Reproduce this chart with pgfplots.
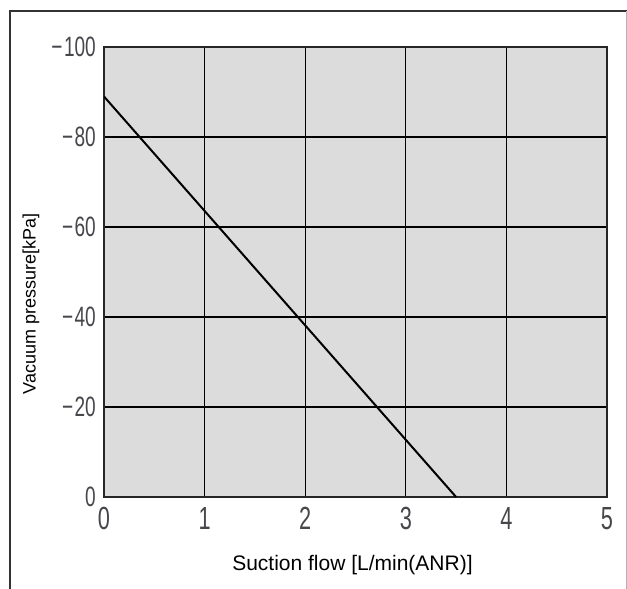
\documentclass[border=0pt]{standalone}
\usepackage{pgfplots}
\pgfplotsset{compat=1.18}
\usepackage{fontspec}
\setmainfont{Liberation Sans}
\newfontfamily\tickfont[FakeStretch=0.68]{Liberation Sans}
\definecolor{bg}{RGB}{220,220,220}
\definecolor{ticktxt}{RGB}{70,70,75}
\begin{document}
\begin{tikzpicture}
\begin{axis}[
  scale only axis,
  width=503bp, height=450bp,
  xmin=0, xmax=5, ymin=-100, ymax=0,
  y dir=reverse,
  axis background/.style={fill=bg},
  xtick={0,1,2,3,4,5},
  ytick={-100,-80,-60,-40,-20,0},
  xticklabels={0,1,2,3,4,5},
  yticklabels={−\kern1.5bp100,−\kern1.5bp80,−\kern1.5bp60,−\kern1.5bp40,−\kern1.5bp20,0},
  major tick length=0pt,
  grid=major,
  major grid style={black, line width=1.2bp},
  axis line style={black!85, line width=2.4bp},
  xticklabel style={font=\tickfont\fontsize{32bp}{34bp}\selectfont, text=ticktxt, anchor=north, inner sep=0pt, yshift=-10bp},
  yticklabel style={font=\tickfont\fontsize{28bp}{30bp}\selectfont, text=ticktxt, anchor=east, inner sep=0pt, xshift=-8bp},
  xlabel={Suction flow [L/min(ANR)]},
  ylabel={Vacuum pressure[kPa]},
  xlabel style={font=\fontsize{21bp}{23bp}\selectfont, at={(axis description cs:0.494,0)}, anchor=center, inner sep=0pt, yshift=-68bp},
  ylabel style={font=\fontsize{18bp}{20bp}\selectfont, at={(axis description cs:0,0.429)}, anchor=center, inner sep=0pt, yshift=73bp},
]
\addplot[black, line width=2bp] coordinates {(0,-89) (3.5,0)};
\end{axis}
\draw[black!80, line width=1.8bp] (-94bp,-95bp) -- (-94bp,486bp) -- (524bp,486bp);
\draw[black!30, line width=0.8bp] (522bp,486bp) -- (522bp,-95bp);
\pgfresetboundingbox
\path[use as bounding box] (-104bp,-92bp) rectangle (523bp,497bp);
\end{tikzpicture}
\end{document}
